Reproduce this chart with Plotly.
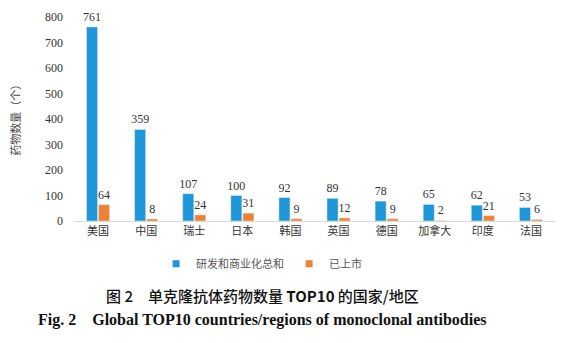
import plotly.graph_objects as go

# Countries / regions and antibody drug counts
countries = ["美国", "中国", "瑞士", "日本", "韩国", "英国", "德国", "加拿大", "印度", "法国"]
total_rd = [761, 359, 107, 100, 92, 89, 78, 65, 62, 53]
marketed = [64, 8, 24, 31, 9, 12, 9, 2, 21, 6]
y_ticks = [0, 100, 200, 300, 400, 500, 600, 700, 800]

serif = "Liberation Serif, Times New Roman, serif"
cjk = "Noto Sans CJK SC, sans-serif"
blue = "#1E96D8"
orange = "#EA8336"

fig = go.Figure()
fig.add_trace(go.Bar(
    x=countries, y=total_rd, name="研发和商业化总和", showlegend=False,
    marker_color=blue,
    text=total_rd, textposition="outside", cliponaxis=False, constraintext="none",
    textfont=dict(family=serif, size=12, color="#333333"),
))
fig.add_trace(go.Bar(
    x=countries, y=marketed, name="已上市", showlegend=False,
    marker_color=orange,
    text=marketed, textposition="outside", cliponaxis=False, constraintext="none",
    textfont=dict(family=serif, size=12, color="#333333"),
))
# small square legend keys
for name, col in [("研发和商业化总和", blue), ("已上市", orange)]:
    fig.add_trace(go.Scatter(x=[None], y=[None], mode="markers", name=name,
                             marker=dict(symbol="square", size=7, color=col)))

fig.update_layout(
    width=565, height=343,
    margin=dict(l=74, r=10, t=13, b=122),
    paper_bgcolor="white", plot_bgcolor="white",
    barmode="group", bargap=0.5, bargroupgap=0.08,
    showlegend=True,
    legend=dict(orientation="h", x=0.39, xanchor="center", y=-0.21, yanchor="middle",
                font=dict(family=cjk, size=11, color="#555555"),
                itemwidth=30, tracegroupgap=0),
    xaxis=dict(showgrid=False, showline=True, linecolor="#D9D9D9", linewidth=1,
               ticks="", tickfont=dict(family=cjk, size=11, color="#333333")),
    yaxis=dict(range=[0, 800], tickvals=y_ticks, showgrid=False, zeroline=False,
               showline=False, ticks="", ticklabelstandoff=10,
               tickfont=dict(family=serif, size=12, color="#333333")),
)

fig.add_annotation(text="药物数量（个）", textangle=-90, xref="paper", yref="paper",
                   x=-0.123, y=0.51, showarrow=False, xanchor="center", yanchor="middle",
                   font=dict(family=cjk, size=11, color="#444444"))
fig.add_annotation(text="图 2　单克隆抗体药物数量 <b>TOP10</b> 的国家/地区",
                   xref="paper", yref="paper", x=0.391, y=-0.365, showarrow=False,
                   xanchor="center", yanchor="middle",
                   font=dict(family=cjk, size=15, color="#111111", weight=500))
fig.add_annotation(text="<b>Fig. 2　Global TOP10 countries/regions of monoclonal antibodies</b>",
                   xref="paper", yref="paper", x=0.391, y=-0.486, showarrow=False,
                   xanchor="center", yanchor="middle",
                   font=dict(family=serif, size=16, color="#111111"))

fig.write_html("out.html")
